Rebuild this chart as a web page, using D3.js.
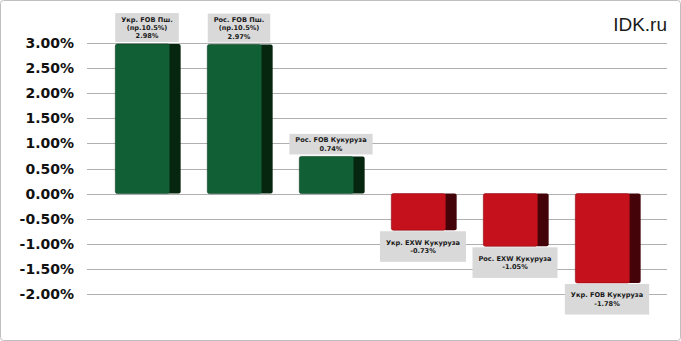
<!DOCTYPE html>
<html>
<head>
<meta charset="utf-8">
<script src="https://cdn.jsdelivr.net/npm/d3@7"></script>
<style>
  body { margin: 0; background: #fff; }
  svg { display: block; }
</style>
</head>
<body>
<svg id="chart" width="681" height="341"></svg>
<script>
// data
var categories = [
  ["Укр. FOB Пш.", "(пр.10.5%)"],
  ["Рос. FOB Пш.", "(пр.10.5%)"],
  ["Рос. FOB Кукуруза"],
  ["Укр. EXW Кукуруза"],
  ["Рос. EXW Кукуруза"],
  ["Укр. FOB Кукуруза"]
];
var values = [2.98, 2.97, 0.74, -0.73, -1.05, -1.78];
var yTicks = [-2, -1.5, -1, -0.5, 0, 0.5, 1, 1.5, 2, 2.5, 3];

var svg = d3.select("#chart"),
  width = 681,
  height = 341;

// plain hyphen minus like the original
var pct = d3.formatLocale({ decimal: ".", thousands: ",", grouping: [3], currency: ["", ""], minus: "-" }).format(".2f");

// outer frame
svg.append("rect")
  .attr("x", 0.5).attr("y", 0.5)
  .attr("width", width - 1).attr("height", height - 1)
  .attr("rx", 3)
  .attr("fill", "#fff")
  .attr("stroke", "#bfbfbf");

var x = d3.scaleBand()
  .domain(d3.range(values.length))
  .range([102, 654])
  .paddingInner(0.29)
  .paddingOuter(0.145);

var y = d3.scaleLinear()
  .domain([-2, 3])
  .range([294, 43]);

// gridlines
svg.append("g")
  .selectAll("line")
  .data(yTicks)
  .enter().append("line")
  .attr("x1", 87).attr("x2", 667)
  .attr("y1", function (d) { return Math.round(y(d)) + 0.5; })
  .attr("y2", function (d) { return Math.round(y(d)) + 0.5; })
  .attr("stroke", "#b0b0b0")
  .attr("stroke-width", 1);

// y axis labels
svg.append("g")
  .selectAll("text")
  .data(yTicks)
  .enter().append("text")
  .attr("x", 74)
  .attr("y", function (d) { return y(d) + 5; })
  .attr("text-anchor", "end")
  .style("font-family", "DejaVu Sans")
  .style("font-weight", "bold")
  .style("font-size", "14px")
  .attr("fill", "#111")
  .text(function (d) { return pct(d) + "%"; });

var sideW = 11;
var bars = svg.append("g")
  .selectAll("g")
  .data(values)
  .enter().append("g");

// dark side
bars.append("rect")
  .attr("x", function (d, i) { return x(i) + x.bandwidth() - sideW - 2; })
  .attr("y", function (d) { return Math.min(y(d), y(0)); })
  .attr("width", sideW + 2)
  .attr("height", function (d) { return Math.abs(y(d) - y(0)); })
  .attr("rx", 2)
  .attr("fill", function (d) { return d >= 0 ? "#062610" : "#430308"; });

// front face
bars.append("rect")
  .attr("x", function (d, i) { return x(i); })
  .attr("y", function (d) { return Math.min(y(d), y(0)); })
  .attr("width", x.bandwidth() - sideW)
  .attr("height", function (d) { return Math.abs(y(d) - y(0)); })
  .attr("rx", 2)
  .attr("fill", function (d) { return d >= 0 ? "#115f34" : "#c5111b"; })
  .attr("stroke", function (d) { return d >= 0 ? "#0a3d20" : "#8a0a12"; })
  .attr("stroke-width", 0.6);

// data labels
var lineH = 8.3;
var labels = svg.append("g")
  .selectAll("g")
  .data(values)
  .enter().append("g");

labels.each(function (d, i) {
  var g = d3.select(this);
  var lines = categories[i].concat([pct(d) + "%"]);
  var cx = x(i) + x.bandwidth() / 2 - 1;
  var boxH = d >= 0 ? lines.length * lineH + 4 : lines.length * lineH + 14;
  var top = d >= 0 ? y(d) - 2 - boxH : y(0) + Math.abs(y(d) - y(0)) + 1;
  var box = g.append("rect").attr("fill", "#d9d9d9");
  var txt = g.append("text")
    .attr("text-anchor", "middle")
    .style("font-family", "DejaVu Sans")
    .style("font-weight", "bold")
    .style("font-size", "6.6px")
    .attr("fill", "#1a1a1a");
  var startY = top + boxH / 2 - (lines.length * lineH) / 2 + lineH - 1.8;
  lines.forEach(function (l, k) {
    txt.append("tspan")
      .attr("x", cx)
      .attr("y", startY + k * lineH)
      .text(l);
  });
  var w = txt.node().getBBox().width + 12;
  box.attr("x", cx - w / 2).attr("y", top)
    .attr("width", w).attr("height", boxH);
});

// watermark
svg.append("text")
  .attr("x", 667)
  .attr("y", 31)
  .attr("text-anchor", "end")
  .style("font-family", "Liberation Sans")
  .style("font-size", "19px")
  .attr("fill", "#1a1a1a")
  .text("IDK.ru");
</script>
</body>
</html>
